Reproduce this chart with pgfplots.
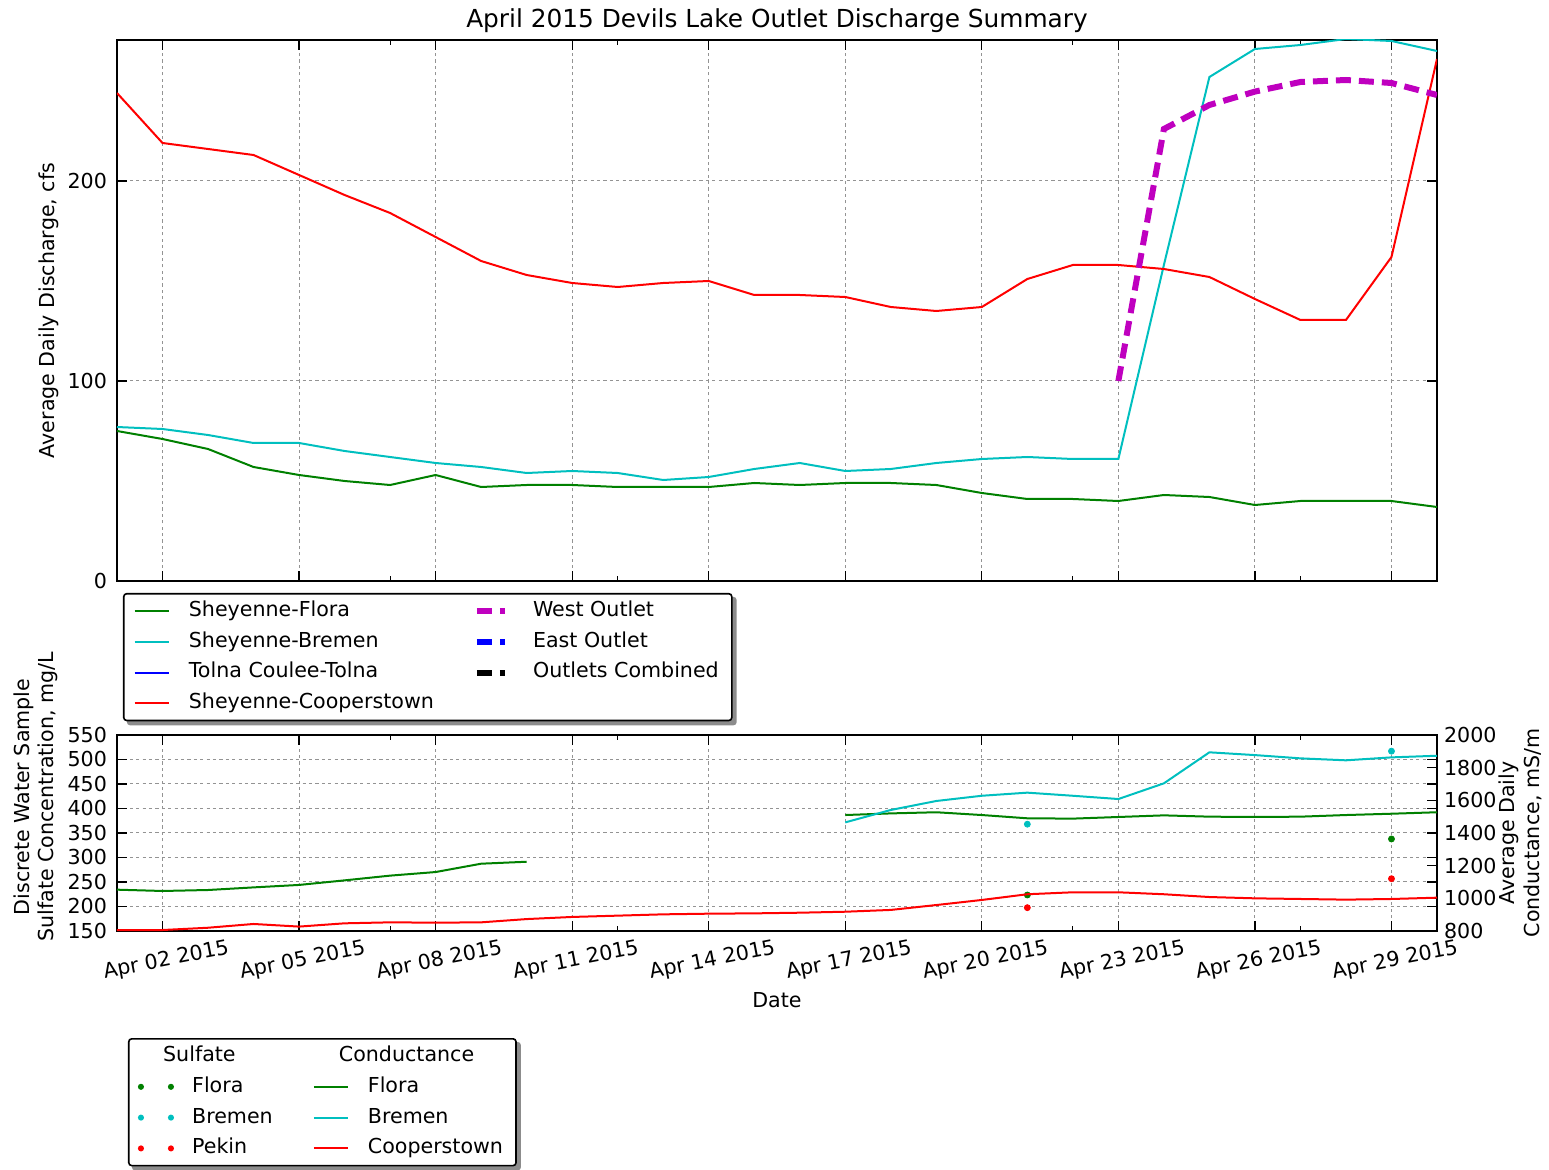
\documentclass[border=0pt]{standalone}
\usepackage{fontspec}
\setmainfont{DejaVu Sans}
\usepackage{pgfplots}
\pgfplotsset{compat=1.18}
\usepackage{pgfplotstable}
\pgfdeclarelayer{background}
\pgfsetlayers{background,main}

\definecolor{mgreen}{rgb}{0,0.5,0}
\definecolor{mcyan}{rgb}{0,0.75,0.75}
\definecolor{mred}{rgb}{1,0,0}
\definecolor{mblue}{rgb}{0,0,1}
\definecolor{mmag}{rgb}{0.75,0,0.75}

\pgfplotstableread{
day flora bremen coop
1 75 77 244
2 71 76 219
3 66 73 216
4 57 69 213
5 53 69 203
6 50 65 193
7 48 62 184
8 53 59 172
9 47 57 160
10 48 54 153
11 48 55 149
12 47 54 147
13 47 50.5 149
14 47 52 150
15 49 56 143
16 48 59 143
17 49 55 142
18 49 56 137
19 48 59 135
20 44 61 137
21 41 62 151
22 41 61 158
23 40 61 158
24 43 158 156
25 42 252 152
26 38 266 141
27 40 268 130.5
28 40 271 130.5
29 40 270 162
30 37 265 261
}\discharge

\pgfplotstableread{
day west
23 100
24 226
25 238
26 244.7
27 249.5
28 250.5
29 249
30 243
}\westoutlet

\pgfplotstableread{
day flora bremen coop
1 1053 nan 806
2 1045 nan 806
3 1051 nan 820
4 1067 nan 843
5 1082 nan 827
6 1110 nan 847
7 1139 nan 853
8 1161 nan 851
9 1212 nan 853
10 1224 nan 873
11 nan nan 886
12 nan nan 894
13 nan nan 902
14 nan nan 906
15 nan nan 908
16 nan nan 912
17 1510 1465 918
18 1520 1541 929
19 1527 1596 959
20 1510 1628 990
21 1490 1647 1025
22 1488 1628 1037
23 1498 1608 1037
24 1508 1704 1025
25 1500 1894 1008
26 1498 1877 1000
27 1500 1857 996
28 1510 1845 992
29 1518 1863 996
30 1527 1873 1004
}\conduct

\pgfplotstableread{
day flora bremen pekin
21 223.5 368 197.6
29 337.8 517 256.7
}\sulfate

\pgfplotsset{
  mybase/.style={
    scale only axis, width=660pt, xmin=1, xmax=30,
    xtick={2,5,...,29}, minor xtick={7,12,22,27},
    major tick length=5pt, minor tick length=2.5pt,
    tick style={black, line width=0.6pt},
    axis line style={line width=0.8pt},
    font=\fontsize{10.3}{12.4}\selectfont,
    /pgf/number format/assume math mode=true,
    /pgf/number format/1000 sep={},
    tick label style={font=\fontsize{10.3}{12.4}\selectfont},
    yticklabel style={xshift=-1.5pt},
    major grid style={gray!85, dash pattern=on 1.6pt off 1.6pt, line width=0.5pt},
    unbounded coords=jump,
  },
  dotleg/.style={legend image code/.code={\draw[##1, only marks, mark=*, mark size=1.1pt] plot coordinates {(0pt,0pt) (15pt,0pt)};}},
  mylegend/.style={
    draw=black, fill=white, line width=0.8pt, rounded corners=1.5pt,
    font=\fontsize{10.3}{12.4}\selectfont,
    legend cell align=left,
    nodes={text height=7.6pt, text depth=2.2pt, inner sep=1.5pt, rounded corners=0pt},
    row sep=2.6pt, inner xsep=5pt, inner ysep=2.2pt,
    /tikz/column 1/.style={column sep=8pt},
    /tikz/column 3/.style={column sep=8pt},
  },
}

\begin{document}
\begin{tikzpicture}
\path[use as bounding box] (-58.5pt,20pt) rectangle (716pt,-565pt);

% ---------- top axis ----------
\begin{axis}[mybase,
  at={(0pt,0pt)}, anchor=north west,
  height=270.5pt, ymin=0, ymax=270.5, ytick={0,100,200},
  xticklabels={},
  xmajorgrids, ymajorgrids,
  title={April 2015 Devils Lake Outlet Discharge Summary},
  title style={font=\fontsize{12.4}{15}\selectfont, at={(axis description cs:0.5,1)}, anchor=south, yshift=-6pt},
  ylabel={Average Daily Discharge, cfs},
  ylabel style={at={(axis description cs:-0.052,0.5)}, anchor=center},
  legend columns=2,
  legend style={mylegend, name=legA, at={(axis description cs:0.0045,-0.022)}, anchor=north west,
    /tikz/column 2/.style={column sep=18.5pt}},
]
\addplot[mgreen, line width=1pt, forget plot] table[x=day, y=flora]{\discharge};
\addplot[mcyan, line width=1pt, forget plot] table[x=day, y=bremen]{\discharge};
\addplot[mred, line width=1pt, forget plot] table[x=day, y=coop]{\discharge};
\addplot[mmag, line width=3pt, dash pattern=on 7.5pt off 4pt, forget plot] table[x=day, y=west]{\westoutlet};

\addlegendimage{mgreen, line width=1pt}\addlegendentry{Sheyenne-Flora}
\addlegendimage{mmag, line width=3pt, dash pattern=on 7.5pt off 4pt on 2.5pt off 4pt}\addlegendentry{West Outlet}
\addlegendimage{mcyan, line width=1pt}\addlegendentry{Sheyenne-Bremen}
\addlegendimage{mblue, line width=3pt, dash pattern=on 7.5pt off 4pt on 2.5pt off 4pt}\addlegendentry{East Outlet}
\addlegendimage{mblue, line width=1pt}\addlegendentry{Tolna Coulee-Tolna}
\addlegendimage{black, line width=3pt, dash pattern=on 7.5pt off 4pt on 2.5pt off 4pt}\addlegendentry{Outlets Combined}
\addlegendimage{mred, line width=1pt}\addlegendentry{Sheyenne-Cooperstown}
\end{axis}

% ---------- bottom axis (sulfate, left) ----------
\begin{axis}[mybase,
  at={(0pt,-347.5pt)}, anchor=north west,
  height=98pt, ymin=150, ymax=550, ytick={150,200,...,550},
  xmajorgrids, ymajorgrids,
  xticklabels={Apr 02 2015,Apr 05 2015,Apr 08 2015,Apr 11 2015,Apr 14 2015,Apr 17 2015,Apr 20 2015,Apr 23 2015,Apr 26 2015,Apr 29 2015},
  xticklabel style={rotate=11, anchor=north, yshift=-6.5pt, xshift=-1pt},
  xlabel={Date},
  xlabel style={at={(axis description cs:0.5,-0.352)}, anchor=center},
  ylabel={Discrete Water Sample\\Sulfate Concentration, mg/L},
  ylabel style={align=center, at={(axis description cs:-0.0615,0.684)}, anchor=center},
]
\addplot[mgreen, only marks, mark=*, mark size=1.5pt] table[x=day, y=flora]{\sulfate};
\addplot[mcyan, only marks, mark=*, mark size=1.5pt] table[x=day, y=bremen]{\sulfate};
\addplot[mred, only marks, mark=*, mark size=1.5pt] table[x=day, y=pekin]{\sulfate};
\end{axis}

% ---------- bottom axis (conductance, right) ----------
\begin{axis}[mybase,
  at={(0pt,-347.5pt)}, anchor=north west,
  height=98pt, ymin=800, ymax=2000, ytick={800,1000,...,2000},
  axis x line=none, axis y line*=right,
  yticklabel style={xshift=1.5pt},
  ylabel={Average Daily\\Conductance, mS/m},
  ylabel style={align=center, at={(axis description cs:1.0629,0.5)}, anchor=center},
  legend columns=2,
  legend style={mylegend, name=legB, at={(axis description cs:0.0083,-0.546)}, anchor=north west,
    /tikz/column 2/.style={column sep=18.5pt}},
]
\addplot[mgreen, line width=1pt, forget plot] table[x=day, y=flora]{\conduct};
\addplot[mcyan, line width=1pt, forget plot] table[x=day, y=bremen]{\conduct};
\addplot[mred, line width=1pt, forget plot] table[x=day, y=coop]{\conduct};

\addlegendimage{empty legend}\addlegendentry{\hspace*{-14.5pt}Sulfate}
\addlegendimage{empty legend}\addlegendentry{\hspace*{-14.5pt}Conductance}
\addlegendimage{mgreen, dotleg}\addlegendentry{Flora}
\addlegendimage{mgreen, line width=1pt}\addlegendentry{Flora}
\addlegendimage{mcyan, dotleg}\addlegendentry{Bremen}
\addlegendimage{mcyan, line width=1pt}\addlegendentry{Bremen}
\addlegendimage{mred, dotleg}\addlegendentry{Pekin}
\addlegendimage{mred, line width=1pt}\addlegendentry{Cooperstown}
\end{axis}

\begin{pgfonlayer}{background}
\fill[black!45, rounded corners=1.5pt] ([xshift=2pt,yshift=-2pt]legA.south west) rectangle ([xshift=2pt,yshift=-2pt]legA.north east);
\fill[black!45, rounded corners=1.5pt] ([xshift=2pt,yshift=-2pt]legB.south west) rectangle ([xshift=2pt,yshift=-2pt]legB.north east);
\end{pgfonlayer}
\end{tikzpicture}
\end{document}
